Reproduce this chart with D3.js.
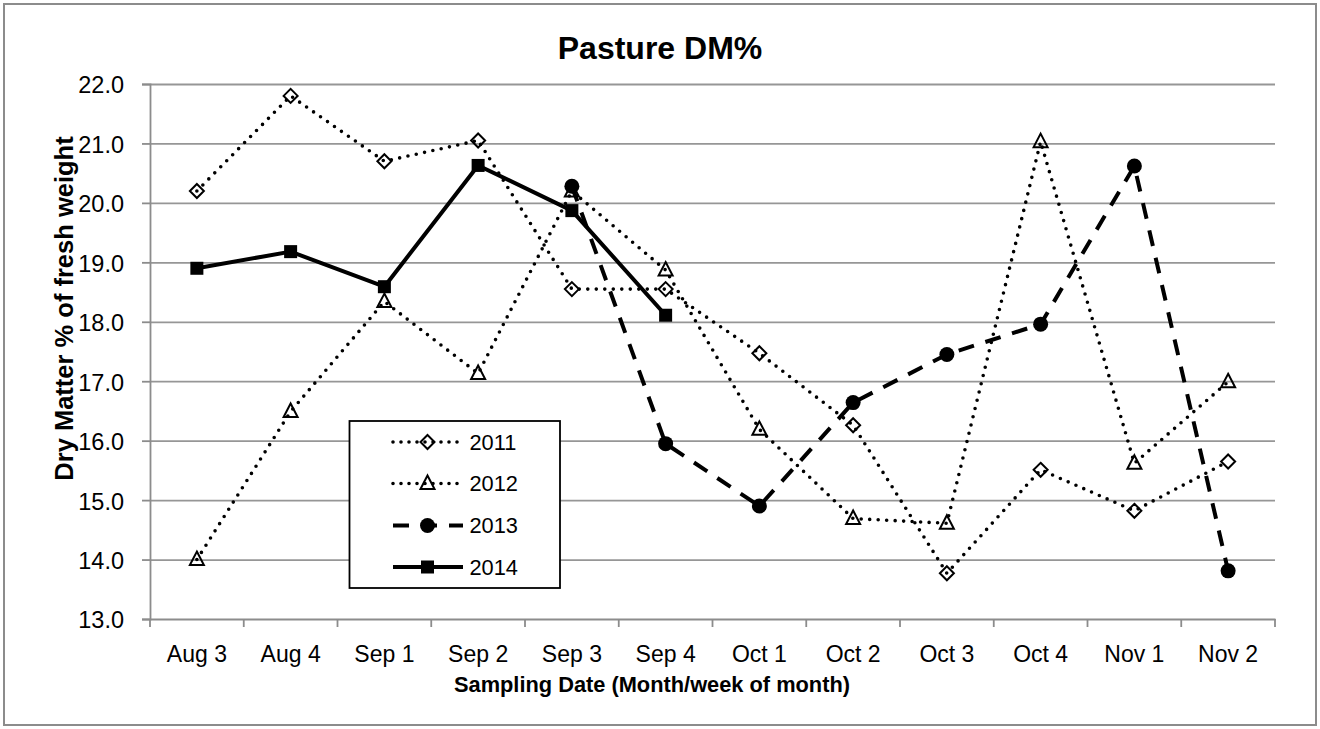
<!DOCTYPE html>
<html>
<head>
<meta charset="utf-8">
<script src="https://cdn.jsdelivr.net/npm/d3@7"></script>
<style>
  html, body { margin: 0; padding: 0; background: #fff; }
  svg { display: block; }
  text { font-family: "Liberation Sans", Arial, sans-serif; fill: #000; }
</style>
</head>
<body>
<svg id="chart" width="1320" height="729"></svg>
<script>
const categories = ["Aug 3","Aug 4","Sep 1","Sep 2","Sep 3","Sep 4","Oct 1","Oct 2","Oct 3","Oct 4","Nov 1","Nov 2"];
const values2011 = [20.2, 21.8, 20.7, 21.05, 18.55, 18.55, 17.47, 16.26, 13.77, 15.51, 14.82, 15.65];
const values2012 = [14.0, 16.49, 18.34, 17.13, 20.2, 18.87, 16.19, 14.69, 14.61, 21.03, 15.62, 16.99];
const values2013 = [null, null, null, null, 20.28, 15.95, 14.9, 16.64, 17.45, 17.96, 20.62, 13.81];
const values2014 = [18.9, 19.18, 18.59, 20.63, 19.87, 18.11, null, null, null, null, null, null];
const seriesNames = ["2011", "2012", "2013", "2014"];
const yTicks = [13, 14, 15, 16, 17, 18, 19, 20, 21, 22];
const title = "Pasture DM%";
const xTitle = "Sampling Date (Month/week of month)";
const yTitle = "Dry Matter % of fresh weight";

const svg = d3.select("#chart");
const W = 1320, H = 729;
const plot = { left: 150, right: 1275, top: 84, bottom: 619 };

// outer border
svg.append("rect").attr("x", 4).attr("y", 4).attr("width", 1312).attr("height", 721)
  .attr("fill", "#fff").attr("stroke", "#8c8c8c").attr("stroke-width", 2);

const x = d3.scaleBand().domain(categories).range([plot.left, plot.right]);
const y = d3.scaleLinear().domain([13, 22]).range([plot.bottom, plot.top]);
const cx = c => x(c) + x.bandwidth() / 2;

// gridlines
svg.append("g").attr("transform", `translate(${plot.left},0)`)
  .call(d3.axisLeft(y).tickValues(yTicks.filter(t => t !== 13)).tickSize(-(plot.right - plot.left)).tickFormat(""))
  .call(g => g.select(".domain").remove())
  .call(g => g.selectAll("line").attr("stroke", "#969696").attr("stroke-width", 1.8));

// y axis
svg.append("g").attr("transform", `translate(${plot.left},0)`)
  .call(d3.axisLeft(y).tickValues(yTicks).tickFormat(d3.format(".1f")).tickSize(8).tickPadding(18))
  .call(g => g.select(".domain").attr("stroke", "#8c8c8c").attr("stroke-width", 1.8))
  .call(g => g.selectAll(".tick line").attr("stroke", "#8c8c8c").attr("stroke-width", 1.8))
  .call(g => g.selectAll("text").attr("font-size", 23.5).attr("dy", "0.38em")
    .style("font-family", '"Liberation Sans", Arial, sans-serif').attr("fill", "#000"));

// x axis labels
svg.append("g").attr("transform", `translate(0,${plot.bottom})`)
  .call(d3.axisBottom(x).tickSize(0).tickPadding(0))
  .call(g => g.select(".domain").attr("stroke", "#8c8c8c").attr("stroke-width", 1.8))
  .call(g => g.selectAll("text").attr("font-size", 23).attr("y", 42.7).attr("dy", 0)
    .style("font-family", '"Liberation Sans", Arial, sans-serif').attr("fill", "#000"));

// x axis boundary ticks
const bounds = categories.map(c => x(c)).concat([x(categories[categories.length - 1]) + x.bandwidth()]);
svg.append("g").selectAll("line").data(bounds).join("line")
  .attr("x1", d => d).attr("x2", d => d)
  .attr("y1", plot.bottom).attr("y2", plot.bottom + 8)
  .attr("stroke", "#8c8c8c").attr("stroke-width", 1.8);

// titles
svg.append("text").attr("x", 660).attr("y", 59).attr("text-anchor", "middle")
  .attr("font-size", 32).attr("font-weight", "bold").text(title);
svg.append("text").attr("x", 652).attr("y", 691.5).attr("text-anchor", "middle")
  .attr("font-size", 21.8).attr("font-weight", "bold").text(xTitle);
svg.append("text").attr("transform", `translate(73,308.5) rotate(-90)`).attr("text-anchor", "middle")
  .attr("font-size", 25.5).attr("font-weight", "bold").text(yTitle);

// series styles
const styles = {
  "2011": { dash: "0 8.5", width: 3.6, cap: "round", marker: "diamond" },
  "2012": { dash: "0 8.5", width: 3.6, cap: "round", marker: "triangle" },
  "2013": { dash: "16 12", width: 4, cap: "butt", marker: "circle" },
  "2014": { dash: null, width: 4, cap: "butt", marker: "square" }
};
const seriesData = [values2011, values2012, values2013, values2014];

const line = d3.line().defined(d => d.v != null).x(d => cx(d.c)).y(d => y(d.v));

function drawMarker(g, type, px, py) {
  if (type === "diamond") {
    g.append("path").attr("d", `M${px},${py - 7}L${px + 7},${py}L${px},${py + 7}L${px - 7},${py}Z`)
      .attr("fill", "none").attr("stroke", "#000").attr("stroke-width", 2);
  } else if (type === "triangle") {
    g.append("path").attr("d", `M${px},${py - 8}L${px + 7},${py + 5.5}L${px - 7},${py + 5.5}Z`)
      .attr("fill", "none").attr("stroke", "#000").attr("stroke-width", 2);
  } else if (type === "circle") {
    g.append("circle").attr("cx", px).attr("cy", py).attr("r", 7.5).attr("fill", "#000");
  } else if (type === "square") {
    g.append("rect").attr("x", px - 6.5).attr("y", py - 6.5).attr("width", 13).attr("height", 13).attr("fill", "#000");
  }
}

const linesG = svg.append("g");
const markersG = svg.append("g");
seriesNames.forEach((name, i) => {
  const st = styles[name];
  const pts = categories.map((c, j) => ({ c, v: seriesData[i][j] }));
  const p = linesG.append("path").datum(pts).attr("d", line)
    .attr("fill", "none").attr("stroke", "#000").attr("stroke-width", st.width)
    .attr("stroke-linecap", st.cap).attr("stroke-linejoin", "round");
  if (st.dash) p.attr("stroke-dasharray", st.dash);
  pts.filter(d => d.v != null).forEach(d => drawMarker(markersG, st.marker, cx(d.c), y(d.v)));
});

// legend
const lg = svg.append("g");
lg.append("rect").attr("x", 349.5).attr("y", 421).attr("width", 210.5).attr("height", 167)
  .attr("fill", "#fff").attr("stroke", "#000").attr("stroke-width", 1.8);
const legendY = [442, 483.5, 525.5, 567];
seriesNames.forEach((name, i) => {
  const st = styles[name];
  const ly = legendY[i];
  const l = lg.append("line").attr("x1", 393).attr("x2", 463).attr("y1", ly).attr("y2", ly)
    .attr("stroke", "#000").attr("stroke-width", st.width).attr("stroke-linecap", st.cap);
  if (name === "2013") l.attr("stroke-dasharray", "16 12");
  else if (st.dash) l.attr("stroke-dasharray", "0 8");
  drawMarker(lg, st.marker, 427.5, ly);
  lg.append("text").attr("x", 469.5).attr("y", ly + 7.8).attr("font-size", 21.8).text(name);
});
</script>
</body>
</html>
